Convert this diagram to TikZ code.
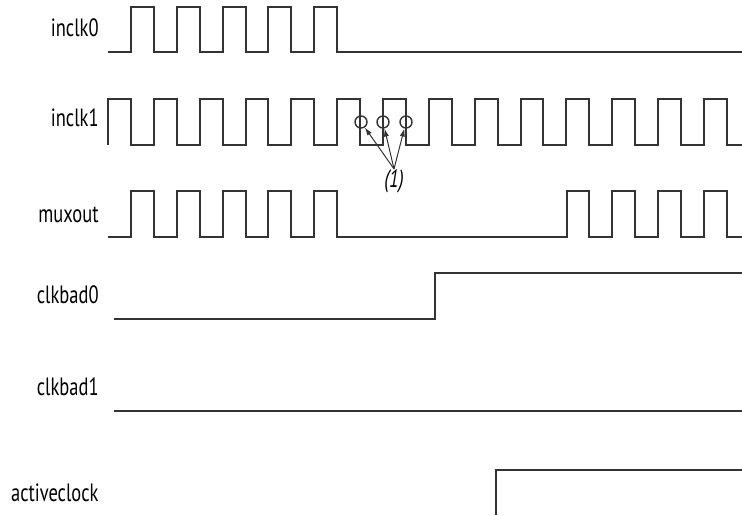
\documentclass[tikz,border=0pt]{standalone}
\usepackage{fontspec}
\setmainfont[FakeStretch=0.74]{PT Sans}
\usetikzlibrary{arrows.meta}
\newcommand{\halfp}{22.92}
\tikzset{
  wave/.style={line width=1pt, draw=black!80},
  sig/.style={anchor=east, inner sep=0pt, font=\fontsize{12.5}{14}\selectfont},
  ring/.style={circle, draw=black!80, line width=0.7pt, minimum size=6pt, inner sep=0pt},
  pointer/.style={-{Latex[length=4pt,width=2.6pt]}, line width=0.5pt, draw=black!80}
}
\begin{document}
\begin{tikzpicture}[x=0.5pt,y=-0.5pt]
\useasboundingbox (0,0) rectangle (742,515);
% signal names
\foreach \y/\s in {28/inclk0,118/inclk1,215/muxout,295/clkbad0,387/clkbad1,493/activeclock}{
  \node[sig] (\s) at (99,\y) {\s};
}
% inclk0
\draw[wave] (108,52) -- ++(\halfp,0) foreach \k in {0,...,4}{
  -- ++(0,-45) -- ++(\halfp,0) -- ++(0,45) -- ++(\halfp,0)} -- (742,52);
% inclk1
\draw[wave] (108,145) -- ++(0,-46) foreach \k in {0,...,12}{
  -- ++(\halfp,0) -- ++(0,46) -- ++(\halfp,0) -- ++(0,-46)}
  -- ++(\halfp,0) -- ++(0,46) -- (742,145);
% muxout
\draw[wave] (108,237) -- ++(\halfp,0) foreach \k in {0,...,4}{
  -- ++(0,-46) -- ++(\halfp,0) -- ++(0,46) -- ++(\halfp,0)} -- (566.5,237)
  foreach \k in {0,...,2}{
  -- ++(0,-46) -- ++(\halfp,0) -- ++(0,46) -- ++(\halfp,0)}
  -- ++(0,-46) -- ++(\halfp,0) -- ++(0,46) -- (742,237);
% clkbad0, clkbad1, activeclock
\draw[wave] (114,319) -- (435,319) -- (435,273) -- (742,273);
\draw[wave] (114,411) -- (742,411);
\draw[wave] (496,515) -- (496,470) -- (742,470);
% switchover edges
\foreach \x [count=\n] in {361,383,406}{
  \node[ring] (r\n) at (\x,122) {};
}
\node[inner sep=0pt, font=\fontsize{12.5}{14}\selectfont\itshape] (note) at (394,181) {(1)};
\foreach \n in {1,2,3}{
  \draw[pointer] (note.north) -- (r\n);
}
\end{tikzpicture}
\end{document}
